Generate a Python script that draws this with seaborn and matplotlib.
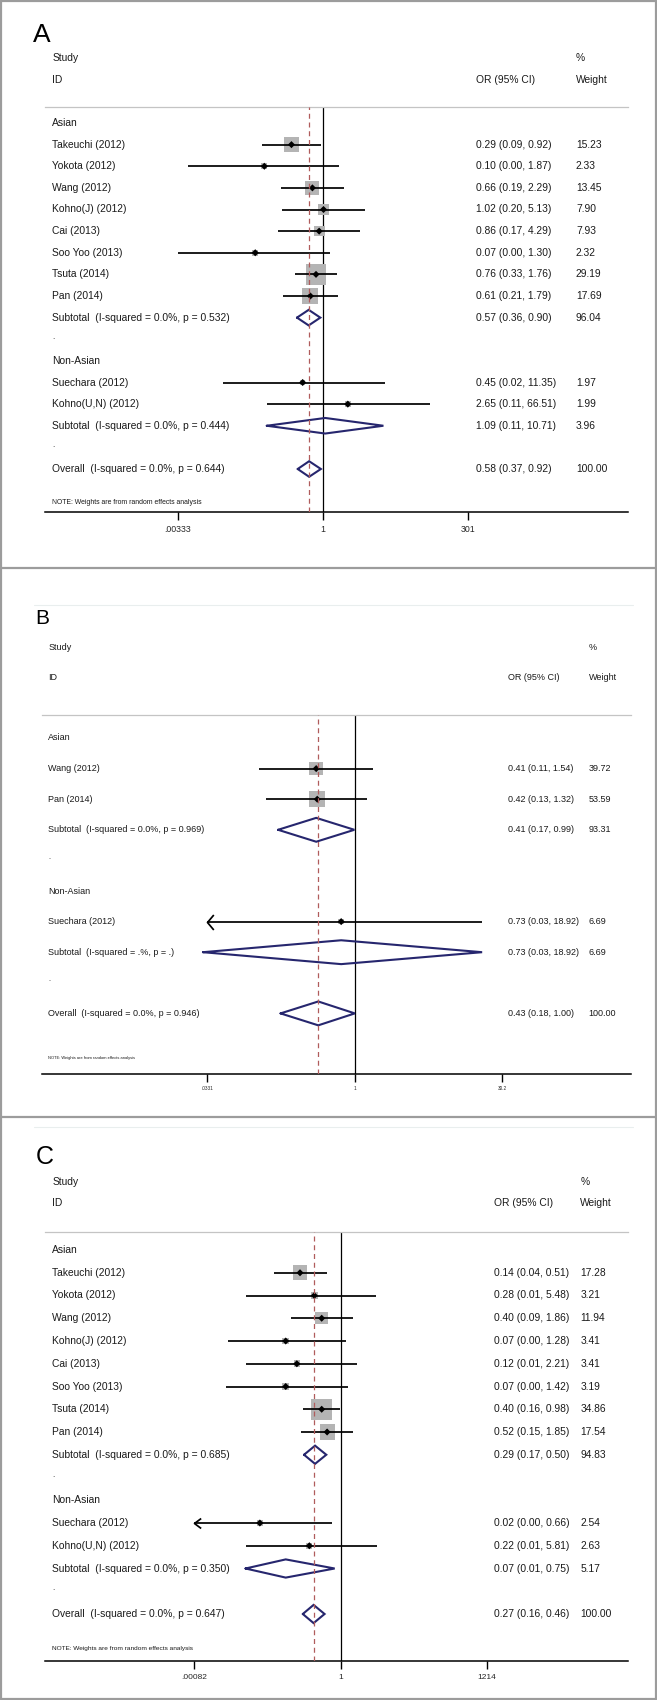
import numpy as np
import matplotlib
matplotlib.use("Agg")
import matplotlib.pyplot as plt
import seaborn as sns
from matplotlib.path import Path
from matplotlib.lines import Line2D
from matplotlib.transforms import blended_transform_factory
from matplotlib import font_manager as fm

# ---------------- data ----------------
A_studies = ["Takeuchi (2012)", "Yokota (2012)", "Wang (2012)", "Kohno(J) (2012)", "Cai (2013)",
             "Soo Yoo (2013)", "Tsuta (2014)", "Pan (2014)", "Suechara (2012)", "Kohno(U,N) (2012)"]
A_or = [0.29, 0.10, 0.66, 1.02, 0.86, 0.07, 0.76, 0.61, 0.45, 2.65]
A_lo = [0.09, 0.0049, 0.19, 0.20, 0.17, 0.0034, 0.33, 0.21, 0.02, 0.11]
A_hi = [0.92, 1.87, 2.29, 5.13, 4.29, 1.30, 1.76, 1.79, 11.35, 66.51]
A_w = [15.23, 2.33, 13.45, 7.90, 7.93, 2.32, 29.19, 17.69, 1.97, 1.99]
A_groups = ["Asian", "Non-Asian"]
A_group_sizes = [8, 2]
A_sub_or = [0.57, 1.09]
A_sub_lo = [0.36, 0.11]
A_sub_hi = [0.90, 10.71]
A_sub_w = [96.04, 3.96]
A_sub_i2 = ["0.0%", "0.0%"]
A_sub_p = ["0.532", "0.444"]
A_all = [0.58, 0.37, 0.92]
A_all_i2, A_all_p = "0.0%", "0.644"
A_ticks = [1 / 301, 1, 301]
A_ticklabels = [".00333", "1", "301"]

B_studies = ["Wang (2012)", "Pan (2014)", "Suechara (2012)"]
B_or = [0.41, 0.42, 0.73]
B_lo = [0.11, 0.13, 0.03]
B_hi = [1.54, 1.32, 18.92]
B_w = [39.72, 53.59, 6.69]
B_groups = ["Asian", "Non-Asian"]
B_group_sizes = [2, 1]
B_sub_or = [0.41, 0.73]
B_sub_lo = [0.17, 0.03]
B_sub_hi = [0.99, 18.92]
B_sub_w = [93.31, 6.69]
B_sub_i2 = ["0.0%", ".%"]
B_sub_p = ["0.969", "."]
B_all = [0.43, 0.18, 1.00]
B_all_i2, B_all_p = "0.0%", "0.946"
B_ticks = [1 / 30.2, 1, 30.2]
B_ticklabels = [".0331", "1", "30.2"]

C_studies = list(A_studies)
C_or = [0.14, 0.28, 0.40, 0.07, 0.12, 0.07, 0.40, 0.52, 0.02, 0.22]
C_lo = [0.04, 0.01, 0.09, 0.0042, 0.01, 0.0038, 0.16, 0.15, 0.0006, 0.01]
C_hi = [0.51, 5.48, 1.86, 1.28, 2.21, 1.42, 0.98, 1.85, 0.66, 5.81]
C_w = [17.28, 3.21, 11.94, 3.41, 3.41, 3.19, 34.86, 17.54, 2.54, 2.63]
C_groups = ["Asian", "Non-Asian"]
C_group_sizes = [8, 2]
C_sub_or = [0.29, 0.07]
C_sub_lo = [0.17, 0.01]
C_sub_hi = [0.50, 0.75]
C_sub_w = [94.83, 5.17]
C_sub_i2 = ["0.0%", "0.0%"]
C_sub_p = ["0.685", "0.350"]
C_all = [0.27, 0.16, 0.46]
C_all_i2, C_all_p = "0.0%", "0.647"
C_ticks = [1 / 1214, 1, 1214]
C_ticklabels = [".00082", "1", "1214"]

NOTE = "NOTE: Weights are from random effects analysis"

# ---------------- style ----------------
sns.set_style("white")

_names = {f.name for f in fm.fontManager.ttflist}
NARROW = "Liberation Sans Narrow" in _names
TXT_FONT = ["Liberation Sans Narrow", "Liberation Sans", "DejaVu Sans"] if NARROW else ["Liberation Sans", "DejaVu Sans"]
FS_SCALE = 1.0 if NARROW else 0.88
plt.rcParams["font.family"] = TXT_FONT

W, H = 657, 1700
DPI = 100
fig = plt.figure(figsize=(W / DPI, H / DPI), dpi=DPI)
fig.patch.set_facecolor("white")

GRAY_BOX = "#b4b4b4"
NAVY = "#26266e"
RED = "#b05c5c"

rect = Path([(-1, -1), (1, -1), (1, 1), (-1, 1), (-1, -1)],
            [Path.MOVETO, Path.LINETO, Path.LINETO, Path.LINETO, Path.CLOSEPOLY])


def chevron(ratio):
    return Path([(ratio, 1), (0, 0), (ratio, -1)], [Path.MOVETO, Path.LINETO, Path.LINETO])


def fx(px):
    return px / W


def fy(py):
    return 1 - py / H


def draw_panel(cfg, studies, or_, lo, hi, wts, groups, gsizes, s_or, s_lo, s_hi, s_w, s_i2, s_p,
               overall, all_i2, all_p, ticks, ticklabels):
    x0, x1 = cfg["x0"], cfg["x1"]
    sep_y, axis_y = cfg["sep_y"], cfg["axis_y"]
    row0, sp = cfg["row0"], cfg["sp"]
    ax = fig.add_axes([fx(x0), fy(axis_y), fx(x1) - fx(x0), (axis_y - sep_y) / H])
    ax.set_xscale("log")
    ax.set_xlim(10 ** ((x0 - cfg["one"]) / cfg["ppd"]), 10 ** ((x1 - cfg["one"]) / cfg["ppd"]))
    ax.set_ylim((axis_y - row0) / sp, (sep_y - row0) / sp)
    ax.patch.set_alpha(0)
    for s in ["left", "right"]:
        ax.spines[s].set_visible(False)
    ax.spines["top"].set_color("#c4c4c4")
    ax.spines["top"].set_linewidth(0.9)
    ax.spines["bottom"].set_color("black")
    ax.spines["bottom"].set_linewidth(1.1)
    ax.set_yticks([])
    ax.set_xticks(ticks)
    ax.set_xticklabels(ticklabels)
    ax.minorticks_off()
    ax.tick_params(axis="x", direction="out", length=5.5, width=1, color="black",
                   labelsize=cfg["tickfs"], pad=cfg["tickpad"], bottom=True)
    for lab in ax.get_xticklabels():
        lab.set_family(TXT_FONT)

    tr = blended_transform_factory(fig.transFigure, ax.transData)
    fs = cfg["fs"] * FS_SCALE

    def txt(xpx, row, s, size=fs, **kw):
        ax.text(fx(xpx), row, s, transform=tr, fontsize=size, va="center", ha="left",
                color="#1a1a1a", **kw)

    # headers
    txt(cfg["lab_x"], cfg["study_row"], "Study")
    txt(cfg["lab_x"], cfg["id_row"], "ID")
    txt(cfg["or_x"], cfg["id_row"], "OR (95% CI)")
    txt(cfg["w_x"], cfg["study_row"], "%")
    txt(cfg["w_x"], cfg["id_row"], "Weight")
    ax.text(fx(cfg["let_x"]), cfg["let_row"], cfg["letter"], transform=tr, fontsize=cfg["letfs"],
            va="center", ha="left", family=["Liberation Sans", "DejaVu Sans"], color="black")
    txt(cfg["lab_x"], cfg["note_row"], NOTE, size=cfg["notefs"] * FS_SCALE)

    # rows
    r = 0
    k = 0
    srows = []
    h = cfg["dh"]
    for g, n in enumerate(gsizes):
        txt(cfg["lab_x"], r, groups[g])
        r += 1
        for j in range(n):
            srows.append(r)
            txt(cfg["lab_x"], r, studies[k])
            txt(cfg["or_x"], r, f"{or_[k]:.2f} ({lo[k]:.2f}, {hi[k]:.2f})")
            txt(cfg["w_x"], r, f"{wts[k]:.2f}")
            k += 1
            r += 1
        txt(cfg["lab_x"], r, f"Subtotal  (I-squared = {s_i2[g]}, p = {s_p[g]})")
        txt(cfg["or_x"], r, f"{s_or[g]:.2f} ({s_lo[g]:.2f}, {s_hi[g]:.2f})")
        txt(cfg["w_x"], r, f"{s_w[g]:.2f}")
        ax.plot([s_lo[g], s_or[g], s_hi[g], s_or[g], s_lo[g]], [r, r - h, r, r + h, r],
                color=NAVY, lw=1.5, zorder=3, solid_joinstyle="miter")
        r += 1
        txt(cfg["lab_x"], r - 0.1, ".", size=fs * 0.8)
        r += 1
    # overall
    txt(cfg["lab_x"], r, f"Overall  (I-squared = {all_i2}, p = {all_p})")
    txt(cfg["or_x"], r, f"{overall[0]:.2f} ({overall[1]:.2f}, {overall[2]:.2f})")
    txt(cfg["w_x"], r, "100.00")
    ax.plot([overall[1], overall[0], overall[2], overall[0], overall[1]], [r, r - h, r, r + h, r],
            color=NAVY, lw=1.5, zorder=3, solid_joinstyle="miter")

    # reference lines
    ax.axvline(1, color="black", lw=0.9, zorder=1)
    ax.axvline(overall[0], color=RED, lw=0.9, ls=(0, (4, 3)), zorder=5)

    # CI lines with clipping arrows
    xmin_t, xmax_t = ticks[0], ticks[-1]
    lo_a = np.array(lo, dtype=float)
    hi_a = np.array(hi, dtype=float)
    lo_c = np.maximum(lo_a, xmin_t)
    hi_c = np.minimum(hi_a, xmax_t)
    ax.hlines(srows, lo_c, hi_c, color="black", lw=1.25, zorder=3)
    for rr, l in zip(srows, lo_a):
        if l < xmin_t:
            ax.plot([xmin_t], [rr], marker=chevron(cfg["arrow_ratio"]), ms=cfg["arrow_ms"],
                    mfc="none", mec="black", mew=1.25, zorder=4)

    # weight boxes
    side_pt = cfg["boxk"] * np.sqrt(np.array(wts)) * 72 / DPI
    sns.scatterplot(x=list(or_), y=srows, s=side_pt ** 2, marker=rect, color=GRAY_BOX,
                    linewidth=0, edgecolor="none", ax=ax, legend=False, zorder=2)
    # point estimates
    sns.scatterplot(x=list(or_), y=srows, s=13, marker="D", color="black",
                    linewidth=0, edgecolor="none", ax=ax, legend=False, zorder=4)
    ax.set_xlabel("")
    ax.set_ylabel("")
    return ax


cfgA = dict(x0=45.2, x1=628.4, one=323.0, ppd=58.66, sep_y=107, axis_y=512, row0=123, sp=21.625,
            lab_x=52.4, or_x=475.5, w_x=576, study_row=-3.0, id_row=-2.0, let_x=33, let_row=-4.07,
            letter="A", letfs=19, note_row=17.53, notefs=5.6, fs=8.4, tickfs=6.3, tickpad=4,
            dh=0.36, boxk=3.8, arrow_ms=9.6, arrow_ratio=1.34)
cfgB = dict(x0=41.9, x1=630.5, one=354.8, ppd=99.7, sep_y=715, axis_y=1074, row0=738, sp=30.6,
            lab_x=48.2, or_x=507.7, w_x=588.6, study_row=-2.97, id_row=-1.99, let_x=35, let_row=-3.92,
            letter="B", letfs=15, note_row=10.46, notefs=3.3, fs=7.4, tickfs=3.4, tickpad=3,
            dh=0.39, boxk=2.15, arrow_ms=10.8, arrow_ratio=0.84)
cfgC = dict(x0=45.2, x1=628.4, one=340.6, ppd=47.53, sep_y=1232, axis_y=1661, row0=1250, sp=22.75,
            lab_x=52.4, or_x=494.3, w_x=580.2, study_row=-2.99, id_row=-2.07, let_x=36, let_row=-4.09,
            letter="C", letfs=18, note_row=17.5, notefs=5.3, fs=8.4, tickfs=6.0, tickpad=4,
            dh=0.40, boxk=3.6, arrow_ms=9.6, arrow_ratio=1.34)

draw_panel(cfgA, A_studies, A_or, A_lo, A_hi, A_w, A_groups, A_group_sizes, A_sub_or, A_sub_lo,
           A_sub_hi, A_sub_w, A_sub_i2, A_sub_p, A_all, A_all_i2, A_all_p, A_ticks, A_ticklabels)
draw_panel(cfgB, B_studies, B_or, B_lo, B_hi, B_w, B_groups, B_group_sizes, B_sub_or, B_sub_lo,
           B_sub_hi, B_sub_w, B_sub_i2, B_sub_p, B_all, B_all_i2, B_all_p, B_ticks, B_ticklabels)
draw_panel(cfgC, C_studies, C_or, C_lo, C_hi, C_w, C_groups, C_group_sizes, C_sub_or, C_sub_lo,
           C_sub_hi, C_sub_w, C_sub_i2, C_sub_p, C_all, C_all_i2, C_all_p, C_ticks, C_ticklabels)

# panel frames
BORDER = "#9c9c9c"
for (xa, ya, xb, yb) in [(1, 1, 656, 1), (1, 1699, 656, 1699), (1, 1, 1, 1699), (656, 1, 656, 1699),
                         (1, 568, 656, 568), (1, 1117, 656, 1117)]:
    fig.add_artist(Line2D([fx(xa), fx(xb)], [fy(ya), fy(yb)], color=BORDER, lw=1.6,
                          transform=fig.transFigure))
for (xa, xb, yy) in [(33.5, 632.6, 605), (33.5, 632.6, 1127)]:
    fig.add_artist(Line2D([fx(xa), fx(xb)], [fy(yy), fy(yy)], color="#e9eeee", lw=0.8,
                          transform=fig.transFigure))

fig.savefig("out.png", dpi=DPI, facecolor="white")
